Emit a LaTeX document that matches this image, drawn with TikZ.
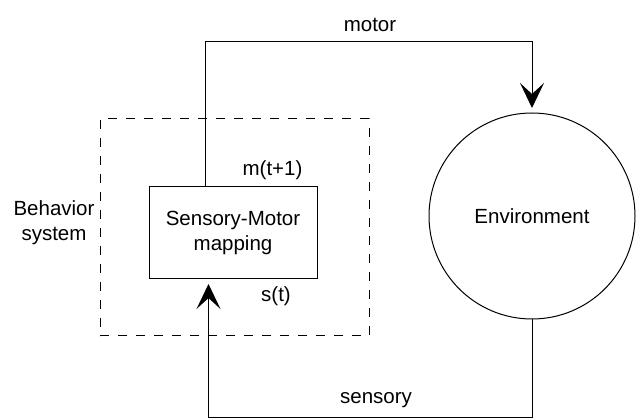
\documentclass[tikz,border=0pt]{standalone}
\usepackage{fontspec}
\setmainfont{Liberation Sans}
\usetikzlibrary{arrows.meta}
\begin{document}
\begin{tikzpicture}[x=1pt,y=-1pt,
  every node/.style={font=\fontsize{20.5}{25}\selectfont},
  arr/.style={line width=1pt,-{Stealth[length=25pt,width=24pt,inset=11pt]},shorten >=4.5pt},
  mapbox/.style={draw,line width=1pt,minimum width=168pt,minimum height=92pt,inner sep=0pt,align=center},
  envcirc/.style={draw,circle,line width=1pt,minimum size=206pt,inner sep=0pt},
  sysbox/.style={draw,line width=1pt,dash pattern=on 9pt off 9pt,minimum width=269pt,minimum height=217pt,inner sep=0pt},
  lbl/.style={anchor=base}]
\useasboundingbox (0,0) rectangle (637,419);
\node[sysbox] (sys) at (234.5,227.5) {};
\node[mapbox] (map) at (233,233) {Sensory-Motor\\mapping};
\node[envcirc] (env) at (532,216) {Environment};
\node[align=center] (lab) at (54,223) {Behavior\\system};
\node[lbl] (mlab) at (272.5,176) {m(t+1)};
\node[lbl] (slab) at (276,302) {s(t)};
\node[lbl] (motor) at (370,32) {motor};
\node[lbl] (sens) at (376,403) {sensory};
\coordinate (mtop) at (205,42);
\coordinate (sbot) at (208.5,417);
\draw[arr] (mtop |- map.north) -- (mtop) -| (env.north);
\draw[arr] (env.south) |- (sbot) -- (sbot |- map.south);
\end{tikzpicture}
\end{document}
